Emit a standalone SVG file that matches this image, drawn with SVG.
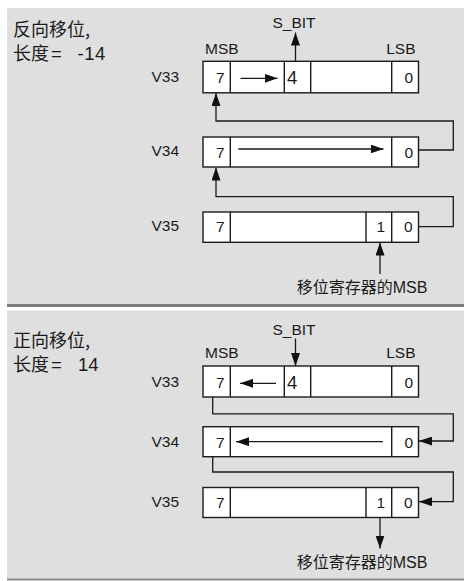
<svg xmlns="http://www.w3.org/2000/svg" width="464" height="581" viewBox="0 0 464 581">
<style>
.bg{fill:#dfdfdf}
.box{fill:#fff;stroke:#1a1a1a;stroke-width:1.4}
.div{stroke:#1a1a1a;stroke-width:1.4}
.t{font-family:"Liberation Sans","Noto Sans CJK SC",Arial,sans-serif;fill:#1a1a1a}
.lbl{font-size:15.5px}
.num{font-size:15.5px;text-anchor:end}
.big{font-size:18.5px}
.title{font-family:"Noto Sans CJK SC","Liberation Sans",sans-serif;font-size:18px;fill:#1a1a1a}
.cjk{font-family:"Liberation Sans","Noto Sans CJK SC",sans-serif;font-size:16px;fill:#1a1a1a}
.c{fill:none;stroke:#1a1a1a;stroke-width:1.3}
.a{marker-end:url(#ah)}
</style>
<defs>
<marker id="ah" markerUnits="userSpaceOnUse" markerWidth="13" markerHeight="9" refX="13" refY="4.5" orient="auto" viewBox="0 0 13 9">
<path d="M0,0 L13,4.5 L0,9 z" fill="#111"/>
</marker>
</defs>

<!-- panels -->
<rect class="bg" x="7" y="8" width="457" height="296"/>
<line x1="7" y1="305.5" x2="464" y2="305.5" stroke="#7a7a7a" stroke-width="3"/>
<rect class="bg" x="7" y="310.5" width="457" height="268"/>
<line x1="7" y1="579.5" x2="464" y2="579.5" stroke="#8a8a8a" stroke-width="2"/>

<!-- panel 1 texts -->
<g id="title1">
<text class="title" x="13" y="35.5">反向移位,</text>
<text class="title" x="13" y="59.5">长度<tspan class="t big" x="51" font-family="Liberation Sans">=</tspan><tspan class="t big" x="77.5" font-family="Liberation Sans" letter-spacing="0.5">-14</tspan></text>
</g>
<g id="p1-labels">
<text class="t lbl" x="294" y="28.3" text-anchor="middle">S_BIT</text>
<text class="t lbl" x="205" y="54">MSB</text>
<text class="t lbl" x="415.5" y="54" text-anchor="end">LSB</text>
</g>

<g id="p1-V33">
<text class="t lbl" x="151.5" y="82">V33</text>
<rect class="box" x="203" y="61.3" width="215.5" height="31.5"/>
<line class="div" x1="230.3" y1="61.3" x2="230.3" y2="92.8"/>
<line class="div" x1="284.3" y1="61.3" x2="284.3" y2="92.8"/>
<line class="div" x1="310.7" y1="61.3" x2="310.7" y2="92.8"/>
<line class="div" x1="391.7" y1="61.3" x2="391.7" y2="92.8"/>
<text class="t num" x="224.5" y="83.3">7</text>
<text class="t big" x="287" y="84">4</text>
<text class="t num" x="413" y="83.3">0</text>
</g>

<g id="p1-V34">
<text class="t lbl" x="151.5" y="155.5">V34</text>
<rect class="box" x="203" y="137" width="215.5" height="30"/>
<line class="div" x1="230.3" y1="137" x2="230.3" y2="167"/>
<line class="div" x1="391.7" y1="137" x2="391.7" y2="167"/>
<text class="t num" x="224.5" y="157.5">7</text>
<text class="t num" x="413" y="157.5">0</text>
</g>

<g id="p1-V35">
<text class="t lbl" x="151.5" y="231">V35</text>
<rect class="box" x="203" y="212" width="215.5" height="30.3"/>
<line class="div" x1="230.3" y1="212" x2="230.3" y2="242.3"/>
<line class="div" x1="366" y1="212" x2="366" y2="242.3"/>
<line class="div" x1="391.7" y1="212" x2="391.7" y2="242.3"/>
<text class="t num" x="224.5" y="232">7</text>
<text class="t num" x="385" y="232">1</text>
<text class="t num" x="412.7" y="232">0</text>
</g>

<g id="p1-msb">
<text class="cjk" x="296.7" y="293">移位寄存器的MSB</text>
</g>

<!-- panel 2 texts -->
<g id="title2">
<text class="title" x="13" y="346.5">正向移位,</text>
<text class="title" x="13" y="370.5">长度<tspan class="t big" x="51" font-family="Liberation Sans">=</tspan><tspan class="t big" x="78" font-family="Liberation Sans">14</tspan></text>
</g>
<g id="p2-labels">
<text class="t lbl" x="294" y="335" text-anchor="middle">S_BIT</text>
<text class="t lbl" x="205" y="358.3">MSB</text>
<text class="t lbl" x="415.5" y="358.3" text-anchor="end">LSB</text>
</g>

<g id="p2-V33">
<text class="t lbl" x="151.5" y="386.5">V33</text>
<rect class="box" x="203" y="366" width="215.5" height="31"/>
<line class="div" x1="230.3" y1="366" x2="230.3" y2="397"/>
<line class="div" x1="284.3" y1="366" x2="284.3" y2="397"/>
<line class="div" x1="310.7" y1="366" x2="310.7" y2="397"/>
<line class="div" x1="391.7" y1="366" x2="391.7" y2="397"/>
<text class="t num" x="224.5" y="388">7</text>
<text class="t big" x="287" y="388.5">4</text>
<text class="t num" x="413" y="388">0</text>
</g>

<g id="p2-V34">
<text class="t lbl" x="151.5" y="446.5">V34</text>
<rect class="box" x="203" y="426.7" width="215.5" height="30"/>
<line class="div" x1="230.3" y1="426.7" x2="230.3" y2="456.7"/>
<line class="div" x1="391.7" y1="426.7" x2="391.7" y2="456.7"/>
<text class="t num" x="224.5" y="447.5">7</text>
<text class="t num" x="413" y="447.5">0</text>
</g>

<g id="p2-V35">
<text class="t lbl" x="151.5" y="507">V35</text>
<rect class="box" x="203" y="487.5" width="215.5" height="30"/>
<line class="div" x1="230.3" y1="487.5" x2="230.3" y2="517.5"/>
<line class="div" x1="366" y1="487.5" x2="366" y2="517.5"/>
<line class="div" x1="391.7" y1="487.5" x2="391.7" y2="517.5"/>
<text class="t num" x="224.5" y="508">7</text>
<text class="t num" x="385" y="508">1</text>
<text class="t num" x="412.7" y="508">0</text>
</g>

<g id="p2-msb">
<text class="cjk" x="296.7" y="568.3">移位寄存器的MSB</text>
</g>

<g id="connectors">
<!-- panel 1 -->
<path class="c a" d="M295.5,61.3 V32.5"/>
<path class="c a" d="M240.5,78.3 H277.5"/>
<path class="c a" d="M418.5,150 H453.3 V121 H216 V93"/>
<path class="c a" d="M238.3,149 H383.5"/>
<path class="c a" d="M418.5,226.7 H453.3 V196.7 H216 V167.5"/>
<path class="c a" d="M380,274 V242.5"/>
<!-- panel 2 -->
<path class="c a" d="M295.5,338.5 V366"/>
<path class="c a" d="M276,383.3 H240"/>
<path class="c a" d="M212.7,397 V413.8 H453.3 V441 H419"/>
<path class="c a" d="M383,441.7 H236"/>
<path class="c a" d="M212.7,456.7 V472 H453.3 V501.7 H419"/>
<path class="c a" d="M380,517.5 V548.5"/>
</g>
</svg>
